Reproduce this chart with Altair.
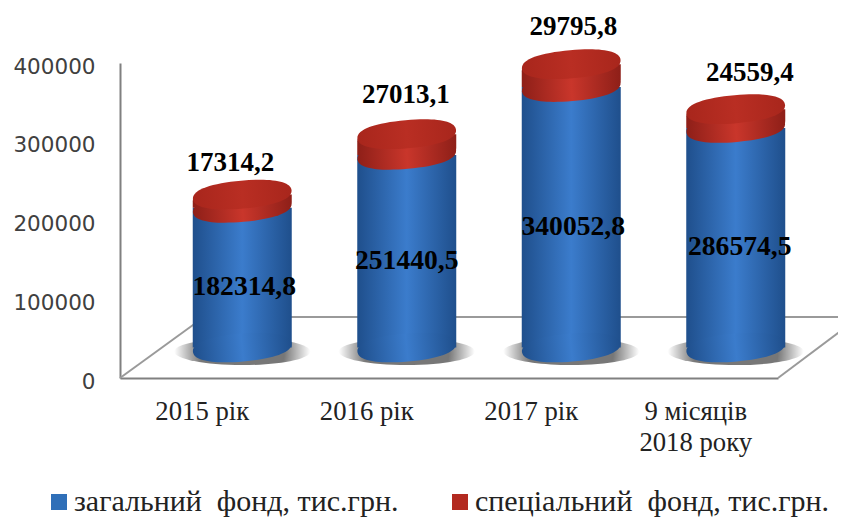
import altair as alt
import pandas as pd

categories = ["2015 рік", "2016 рік", "2017 рік", "9 місяців\n2018 року"]
general_fund = [182314.8, 251440.5, 340052.8, 286574.5]
special_fund = [17314.2, 27013.1, 29795.8, 24559.4]
general_text = ["182314,8", "251440,5", "340052,8", "286574,5"]
special_text = ["17314,2", "27013,1", "29795,8", "24559,4"]
axis_ticks = [0, 100000, 200000, 300000, 400000]
series_names = ["загальний\u00a0\u00a0фонд, тис.грн.", "спеціальний\u00a0\u00a0фонд, тис.грн."]

df = pd.DataFrame({"cat": categories, "general": general_fund, "special": special_fund,
                   "gt": general_text, "st": special_text})
df["total"] = df["general"] + df["special"]
df["mid"] = df["general"] / 2

W, H = 660, 315
GRAY = "#9a9a9a"
CX = 40
ELL = "M-1,0C-1,-0.19,-0.6,-0.283,0,-0.283C0.6,-0.283,1,-0.19,1,0C1,0.19,0.6,0.283,0,0.283C-0.6,0.283,-1,0.19,-1,0Z"
SHAD = "M-1,0A1,0.2,0,1,0,1,0A1,0.2,0,1,0,-1,0Z"

xs = alt.X("cat:N", sort=categories,
           scale=alt.Scale(type="band", domain=categories, range=[0, 658], paddingInner=0, paddingOuter=0),
           axis=alt.Axis(title=None, ticks=False, labelAngle=0, labelFont="Liberation Serif", labelFontSize=26.7,
                         labelColor="#222222", labelPadding=20, domainColor="#808080", domainWidth=2,
                         grid=False, labelLineHeight=31, labelExpr="split(datum.label, '\\n')"))
cyl = alt.Scale(domain=[-39817, 371410], nice=False, zero=False)

def grad(a, b):
    return alt.Gradient(gradient="linear", x1=0, x2=1, y1=0, y2=0,
                        stops=[alt.GradientStop(color=a, offset=0), alt.GradientStop(color=b, offset=0.5),
                               alt.GradientStop(color=a, offset=1)])

BLUE = grad("#1f4f8c", "#3b7ccc")
RED = grad("#8e1f18", "#c9362b")
TOP = grad("#a8261c", "#b92e23")

def ybase():
    return alt.Y("z:Q", scale=cyl, axis=None)

d0 = df.assign(z=0)
base = alt.Chart(df)
X = alt.X("cat:N", sort=categories)

axis_layer = alt.Chart(pd.DataFrame({"cat": [categories[0]] * 5, "t": axis_ticks})).mark_point(opacity=0).encode(
    x=xs,
    y=alt.Y("t:Q", scale=alt.Scale(domain=[0, 400000], nice=False),
            axis=alt.Axis(title=None, values=axis_ticks, ticks=False, grid=False, labelFont="DejaVu Sans",
                          labelFontSize=21.5, labelColor="#404040", labelPadding=25, domainColor="#808080",
                          domainWidth=2, format="d", labelOffset=4)))

def seg(x, y, x2, y2):
    return alt.Chart(pd.DataFrame({"a": [0]})).mark_rule(color=GRAY, strokeWidth=2).encode(
        x=alt.value(x), y=alt.value(y), x2=alt.value(x2), y2=alt.value(y2))

floor = seg(0, 315, 84, 254) + seg(84, 254, 726, 254) + seg(658, 315, 726, 264)

shadow = alt.Chart(d0).mark_point(
    shape=SHAD, size=18500, filled=True, opacity=1, xOffset=CX, yOffset=4,
    fill=alt.Gradient(gradient="radial", x1=0.5, y1=0.5, x2=0.5, y2=0.5, r1=0, r2=0.5,
                      stops=[alt.GradientStop(color="#777777", offset=0.62),
                             alt.GradientStop(color="#ffffff", offset=1)])
).encode(x=X, y=ybase())

blue_bar = base.mark_bar(size=99, xOffset=CX, fill=BLUE, orient="vertical").encode(
    x=X, y=alt.Y("general:Q", scale=cyl, axis=None), y2=alt.Y2(datum=0))
blue_bot = alt.Chart(d0).mark_point(shape=ELL, size=9801, filled=True, opacity=1, xOffset=CX, fill=BLUE, angle=355).encode(
    x=X, y=ybase())
seam = base.mark_point(shape=ELL, size=9801, filled=True, opacity=1, xOffset=CX, fill=RED, angle=355).encode(
    x=X, y=alt.Y("general:Q", scale=cyl, axis=None))
red_bar = base.mark_bar(size=99, xOffset=CX, fill=RED, cornerRadiusTopLeft=7, cornerRadiusBottomRight=7).encode(
    x=X, y=alt.Y("total:Q", scale=cyl, axis=None), y2="general:Q")
red_top = base.mark_point(shape=ELL, size=9801, filled=True, opacity=1, xOffset=CX, fill=TOP, angle=355).encode(
    x=X, y=alt.Y("total:Q", scale=cyl, axis=None))

general_dx = [42, 40, 42, 44]
special_dx = [28, 39, 42, 54]
special_dy = [-31.5, -39.5, -37.5, -36.5]
texts = []
for i, c in enumerate(categories):
    one = df[df["cat"] == c]
    texts.append(alt.Chart(one).mark_text(font="Liberation Serif", fontWeight="bold", fontSize=27.6, color="#000000",
                                          dx=general_dx[i], dy=9.5).encode(
        x=X, y=alt.Y("mid:Q", scale=cyl, axis=None), text="gt:N"))
    texts.append(alt.Chart(one).mark_text(font="Liberation Serif", fontWeight="bold", fontSize=27, color="#000000",
                                          dx=special_dx[i], dy=special_dy[i]).encode(
        x=X, y=alt.Y("total:Q", scale=cyl, axis=None), text="st:N"))

legend_layer = alt.Chart(pd.DataFrame({"s": series_names})).mark_square(opacity=0).encode(
    color=alt.Color("s:N", sort=series_names,
                    scale=alt.Scale(domain=series_names, range=["#2f6fb8", "#b32a20"]),
                    legend=alt.Legend(title=None, orient="none", legendX=-76, legendY=424, direction="horizontal",
                                      columns=2, symbolType="square", symbolSize=256, symbolOpacity=1,
                                      symbolStrokeWidth=0, labelFont="Liberation Serif", labelFontSize=30,
                                      labelColor="#222222", labelLimit=600, columnPadding=46, labelOffset=0)))

chart = alt.layer(axis_layer, floor, shadow, blue_bar, blue_bot, seam, red_bar, red_top, *texts, legend_layer).resolve_scale(
    y="independent"
).properties(
    width=W, height=H,
    padding={"left": 112, "top": 55, "right": 58, "bottom": 139},
    autosize=alt.AutoSizeParams(type="none"),
    background="white",
).configure_view(stroke=None)

chart.save("out.html", embed_options={"renderer": "svg", "actions": False})
